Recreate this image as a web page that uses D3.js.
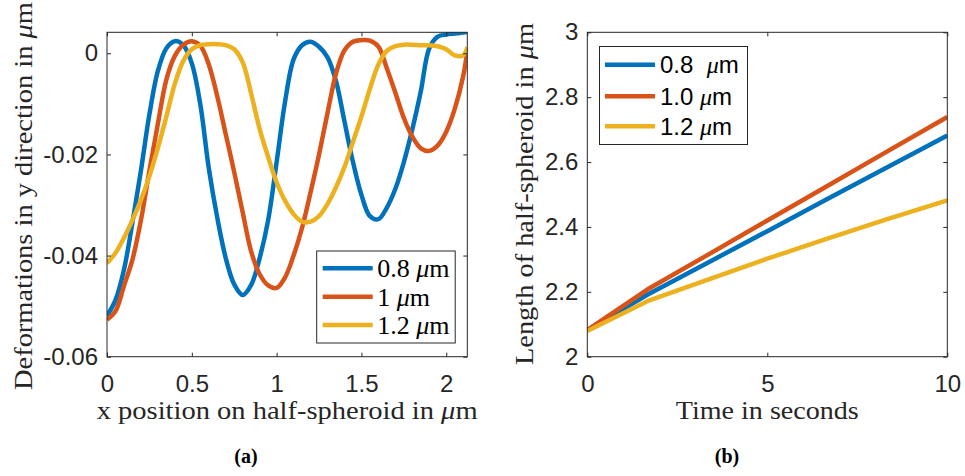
<!DOCTYPE html>
<html>
<head>
<meta charset="utf-8">
<script src="https://cdn.jsdelivr.net/npm/d3@7"></script>
<style>
  html, body { margin: 0; padding: 0; background: #fff; }
  svg { display: block; }
</style>
</head>
<body>
<svg id="fig" width="965" height="476"></svg>
<script>
// ---- (a) deformation profiles along the half-spheroid ----
const posX = [0, 0.05, 0.1, 0.15, 0.2, 0.25, 0.3, 0.35, 0.4, 0.45,
              0.5, 0.55, 0.6, 0.65, 0.7, 0.75, 0.8, 0.85, 0.9, 0.95,
              1, 1.05, 1.1, 1.15, 1.2, 1.25, 1.3, 1.35, 1.4, 1.45,
              1.5, 1.55, 1.6, 1.65, 1.7, 1.75, 1.8, 1.85, 1.9, 1.95,
              2, 2.05, 2.1, 2.125];
const def08 = [-0.0519, -0.0488, -0.0428, -0.0335, -0.0232, -0.0121, -0.0035, 0.0010, 0.0024, 0.0016,
               -0.0020, -0.0101, -0.0227, -0.0325, -0.0405, -0.0457, -0.0478, -0.0458, -0.0405, -0.0330,
               -0.0215, -0.0095, -0.0012, 0.0016, 0.0023, 0.0013, -0.0008, -0.0055, -0.0135, -0.0215,
               -0.0280, -0.0322, -0.0328, -0.0305, -0.0268, -0.0215, -0.0150, -0.0075, 0.0010, 0.0033,
               0.0037, 0.0039, 0.0041, 0.0042];
const def10 = [-0.0527, -0.0510, -0.0460, -0.0408, -0.0330, -0.0232, -0.0139, -0.0052, -0.0005, 0.0017,
               0.0024, 0.0015, -0.0022, -0.0085, -0.0160, -0.0235, -0.0315, -0.0392, -0.0437, -0.0459,
               -0.0464, -0.0443, -0.0400, -0.0345, -0.0275, -0.0200, -0.0118, -0.0040, 0.0006, 0.0023,
               0.0026, 0.0025, 0.0013, -0.0030, -0.0078, -0.0128, -0.0165, -0.0188, -0.0193, -0.0182,
               -0.0155, -0.0110, -0.0045, 0.0008];
const def12 = [-0.0415, -0.0395, -0.0365, -0.0330, -0.0290, -0.0243, -0.0187, -0.0125, -0.0060, -0.0015,
               0.0008, 0.0016, 0.0018, 0.0018, 0.0016, 0.0008, -0.0018, -0.0080, -0.0150, -0.0205,
               -0.0255, -0.0292, -0.0318, -0.0333, -0.0333, -0.0322, -0.0298, -0.0265, -0.0225, -0.0175,
               -0.0125, -0.0070, -0.0022, 0.0005, 0.0014, 0.0017, 0.0017, 0.0016, 0.0016, 0.0014,
               0.0008, -0.0004, -0.0004, 0.0012];
const defNames = ["0.8 ", "1 ", "1.2 "];
const defXTicks = [0, 0.5, 1, 1.5, 2];
const defXTickLabels = ["0", "0.5", "1", "1.5", "2"];
const defYTicks = [0, -0.02, -0.04, -0.06];
const defYTickLabels = ["0", "-0.02", "-0.04", "-0.06"];

// ---- (b) half-spheroid length over time ----
const times = [0, 1.667, 3.333, 5, 6.667, 8.333, 10];
const len08 = [2.082, 2.191, 2.289, 2.387, 2.486, 2.584, 2.682];
const len10 = [2.082, 2.207, 2.313, 2.420, 2.526, 2.633, 2.739];
const len12 = [2.079, 2.171, 2.237, 2.302, 2.364, 2.424, 2.482];
const lenNames = ["0.8  ", "1.0 ", "1.2 "];
const lenXTicks = [0, 5, 10];
const lenXTickLabels = ["0", "5", "10"];
const lenYTicks = [2, 2.2, 2.4, 2.6, 2.8, 3];
const lenYTickLabels = ["2", "2.2", "2.4", "2.6", "2.8", "3"];

const colors = ["#0072BD", "#D95319", "#EDB120"];
const axisColor = "#262626";
const sans = "'Liberation Sans', Arial, Helvetica, sans-serif";
const serif = "'Liberation Serif', 'Times New Roman', serif";

const svg = d3.select("#fig");

function addMicro(sel, fam) {
  // trailing "μm" with a math-italic mu
  sel.append("tspan").attr("font-family", serif).attr("font-style", "italic").text("μ");
  sel.append("tspan").attr("font-family", fam).text("m");
}

function panel(opt) {
  const g = svg.append("g");
  const x = d3.scaleLinear().domain(opt.xDomain).range([opt.left, opt.right]);
  const y = d3.scaleLinear().domain(opt.yDomain).range([opt.bottom, opt.top]);
  const clipId = "clip-" + opt.id;
  svg.append("clipPath").attr("id", clipId)
    .append("rect")
    .attr("x", opt.left).attr("y", opt.top)
    .attr("width", opt.right - opt.left).attr("height", opt.bottom - opt.top);

  // series
  const line = d3.line().x(d => x(d[0])).y(d => y(d[1])).curve(opt.curve);
  opt.series.forEach((s, i) => {
    g.append("path")
      .attr("clip-path", `url(#${clipId})`)
      .attr("d", line(opt.xs.map((v, k) => [v, s[k]])))
      .attr("fill", "none")
      .attr("stroke", colors[i])
      .attr("stroke-width", 4.5)
      .attr("stroke-linejoin", "round");
  });

  // axes: inward ticks, mirrored on top and right
  const styleAxis = a => {
    a.select(".domain").remove();
    a.selectAll("line").attr("stroke", axisColor).attr("stroke-width", 1);
    a.selectAll("text").attr("fill", axisColor).attr("font-family", sans).attr("font-size", 24);
  };
  g.append("g").attr("transform", `translate(0,${opt.bottom})`)
    .call(d3.axisBottom(x).tickValues(opt.xTicks).tickSize(-4).tickPadding(18)
      .tickFormat((d, i) => opt.xTickLabels[i]))
    .call(styleAxis);
  g.append("g").attr("transform", `translate(0,${opt.top})`)
    .call(d3.axisTop(x).tickValues(opt.xTicks).tickSize(-4).tickFormat(""))
    .call(styleAxis);
  g.append("g").attr("transform", `translate(${opt.left},0)`)
    .call(d3.axisLeft(y).tickValues(opt.yTicks).tickSize(-4).tickPadding(9)
      .tickFormat((d, i) => opt.yTickLabels[i]))
    .call(styleAxis);
  g.append("g").attr("transform", `translate(${opt.right},0)`)
    .call(d3.axisRight(y).tickValues(opt.yTicks).tickSize(-4).tickFormat(""))
    .call(styleAxis);
  g.append("rect")
    .attr("x", opt.left).attr("y", opt.top)
    .attr("width", opt.right - opt.left).attr("height", opt.bottom - opt.top)
    .attr("fill", "none").attr("stroke", axisColor).attr("stroke-width", 1);

  // axis titles
  const cx = (opt.left + opt.right) / 2;
  const xt = g.append("text")
    .attr("x", cx).attr("y", opt.xTitleY)
    .attr("text-anchor", "middle")
    .attr("font-family", serif).attr("font-size", 26).attr("fill", axisColor)
    .attr("textLength", opt.xTitleLen).attr("lengthAdjust", "spacingAndGlyphs");
  xt.append("tspan").text(opt.xTitle);
  if (opt.xTitleMicro) addMicro(xt, serif);

  const yt = g.append("text")
    .attr("transform", `translate(${opt.yTitleX},${opt.yTitleCY}) rotate(-90)`)
    .attr("text-anchor", "middle")
    .attr("font-family", serif).attr("font-size", 26).attr("fill", axisColor)
    .attr("textLength", opt.yTitleLen).attr("lengthAdjust", "spacingAndGlyphs");
  yt.append("tspan").text(opt.yTitle);
  addMicro(yt, serif);

  // legend
  const L = opt.legend;
  g.append("rect")
    .attr("x", L.x).attr("y", L.y).attr("width", L.w).attr("height", L.h)
    .attr("fill", "#fff").attr("stroke", axisColor).attr("stroke-width", 1);
  opt.names.forEach((n, i) => {
    const ry = L.rows[i];
    g.append("line")
      .attr("x1", L.lx1).attr("x2", L.lx2).attr("y1", ry).attr("y2", ry)
      .attr("stroke", colors[i]).attr("stroke-width", 4.5);
    const t = g.append("text")
      .attr("x", L.tx).attr("y", ry).attr("dy", "0.35em")
      .attr("font-family", L.font).attr("font-size", L.size).attr("fill", "#000")
      .attr("xml:space", "preserve").style("white-space", "pre");
    t.append("tspan").text(n);
    addMicro(t, L.font);
  });

  // panel caption
  g.append("text")
    .attr("x", opt.capX).attr("y", 463)
    .attr("text-anchor", "middle")
    .attr("font-family", serif).attr("font-weight", "bold").attr("font-size", 20)
    .attr("fill", "#000")
    .text(opt.caption);
}

panel({
  id: "a",
  left: 107, right: 467.3, top: 32.3, bottom: 356.7,
  xDomain: [0, 2.124], yDomain: [-0.06, 0.00415],
  xs: posX, series: [def08, def10, def12],
  curve: d3.curveCatmullRom.alpha(0.5),
  xTicks: defXTicks, xTickLabels: defXTickLabels,
  yTicks: defYTicks, yTickLabels: defYTickLabels,
  xTitle: "x position on half-spheroid in ", xTitleMicro: true, xTitleY: 419, xTitleLen: 381,
  yTitle: "Deformations in y direction in ", yTitleX: 32, yTitleCY: 196, yTitleLen: 388,
  names: defNames,
  legend: { x: 316.7, y: 251, w: 138.5, h: 92, lx1: 322.7, lx2: 372.7, tx: 377.3,
            rows: [268.3, 296.7, 325], font: serif, size: 26 },
  caption: "(a)", capX: 246
});

panel({
  id: "b",
  left: 587.3, right: 947.3, top: 32.3, bottom: 356.7,
  xDomain: [0, 10], yDomain: [2, 3],
  xs: times, series: [len08, len10, len12],
  curve: d3.curveLinear,
  xTicks: lenXTicks, xTickLabels: lenXTickLabels,
  yTicks: lenYTicks, yTickLabels: lenYTickLabels,
  xTitle: "Time in seconds", xTitleMicro: false, xTitleY: 419, xTitleLen: 183,
  yTitle: "Length of half-spheroid in ", yTitleX: 533, yTitleCY: 194, yTitleLen: 342,
  names: lenNames,
  legend: { x: 599.5, y: 46.5, w: 148, h: 98, lx1: 605, lx2: 655, tx: 660,
            rows: [64.7, 96.3, 126.3], font: sans, size: 24 },
  caption: "(b)", capX: 727
});
</script>
</body>
</html>
